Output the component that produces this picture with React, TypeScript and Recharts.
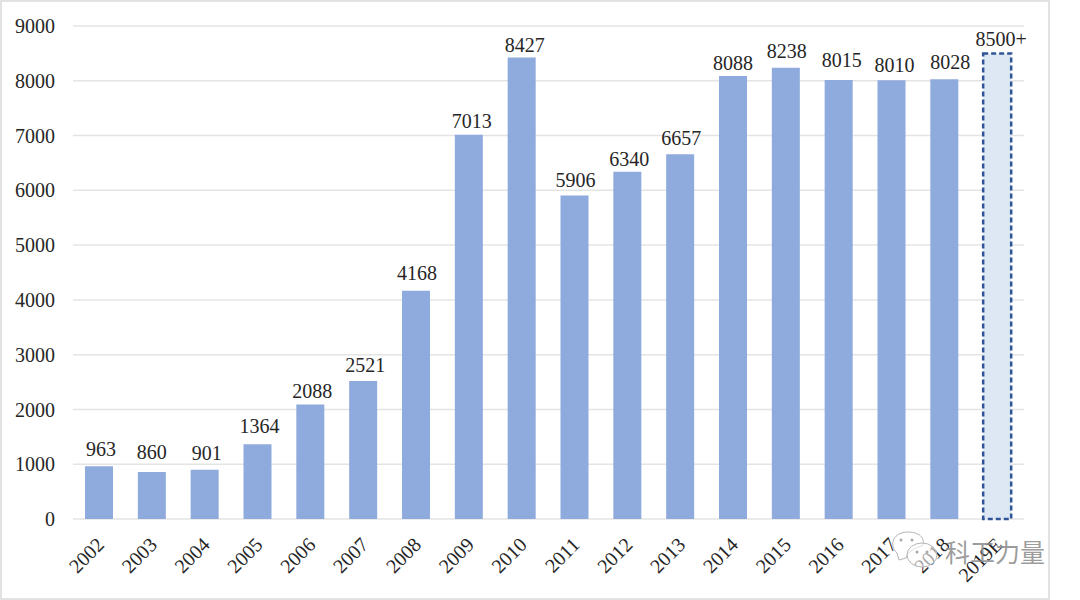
import React from 'react';
import { BarChart, Bar, XAxis, YAxis, CartesianGrid, Cell, LabelList } from 'recharts';

const years = ['2002', '2003', '2004', '2005', '2006', '2007', '2008', '2009', '2010', '2011', '2012', '2013', '2014', '2015', '2016', '2017', '2018', '2019E'];
const values = [963, 860, 901, 1364, 2088, 2521, 4168, 7013, 8427, 5906, 6340, 6657, 8088, 8238, 8015, 8010, 8028, 8500];
const valueLabels = ['963', '860', '901', '1364', '2088', '2521', '4168', '7013', '8427', '5906', '6340', '6657', '8088', '8238', '8015', '8010', '8028', '8500+'];
const yTicks = [0, 1000, 2000, 3000, 4000, 5000, 6000, 7000, 8000, 9000];

// the labels were hand-placed in the original, so each one gets a small nudge
const labelDx = [2, 0, 2, 2, 2, 2, 1, 3, 3, 1, 2, 1, 0, 1, 3, 3, 6, 4];
const labelDy = [0, -3, 0, -1, 3, 1, -1, 3, 5, 2, 4, 1, 4, 0, -3, 2, 0, 1];

const data = years.map((year, i) => ({ year, value: values[i], label: valueLabels[i] }));

const SERIF = '"Liberation Serif", serif';
const TEXT = '#262626';

const YearTick = ({ x, y, payload }: any) => (
  <text
    x={x + 6}
    y={y + 19}
    transform={`rotate(-45 ${x + 6} ${y + 19})`}
    textAnchor="end"
    fontFamily={SERIF}
    fontSize={20}
    fill={TEXT}
  >
    {payload.value}
  </text>
);

const ValueLabel = ({ x, y, width, value, index }: any) => {
  const last = index === data.length - 1;
  return (
    <text
      x={x + width / 2 + labelDx[index]}
      y={y - (last ? 8 : 10) + labelDy[index]}
      textAnchor="middle"
      fontFamily={SERIF}
      fontSize={20}
      fill={TEXT}
    >
      {value}
    </text>
  );
};

// WeChat-style watermark sitting on top of the axis labels
const Watermark = () => (
  <svg width={1080} height={600} style={{ position: 'absolute', left: 0, top: 0, pointerEvents: 'none' }}>
    <g fill="#ffffff" fillOpacity={0.6} stroke="#b4b4b4" strokeWidth={1}>
      <path d="M 897 553 C 888 544 894 532 908 532 C 921 532 926 540 922 546 C 914 548 908 552 906 558 L 899 560 Z" />
      <ellipse cx={922} cy={555} rx={15} ry={12} />
    </g>
    <g fill="#a8a8a8">
      <circle cx={901} cy={540} r={1.5} />
      <circle cx={912} cy={540} r={1.5} />
      <circle cx={917} cy={552} r={1.5} />
      <circle cx={927} cy={552} r={1.5} />
    </g>
    <text x={945} y={562} fontFamily='"Noto Sans CJK SC"' fontSize={25} fill="#8a8a8a" fillOpacity={0.85}>
      科工力量
    </text>
  </svg>
);

export default function App() {
  return (
    <div style={{ position: 'absolute', left: 0, top: 0, width: 1080, height: 600, background: '#fff', overflow: 'hidden' }}>
      <div style={{ position: 'absolute', left: 0, top: 0, width: 1046, height: 596, border: '2px solid #e2e2e2' }} />
      <div style={{ position: 'absolute', left: 0, top: 0 }}>
        <BarChart width={1080} height={600} data={data} margin={{ top: 26, right: 56, bottom: 0, left: 0 }} barSize={28}>
          <CartesianGrid vertical={false} stroke="#e4e4e4" strokeWidth={1.5} />
          <XAxis
            dataKey="year"
            interval={0}
            height={81}
            tick={<YearTick />}
            tickLine={false}
            axisLine={false}
          />
          <YAxis
            width={73}
            domain={[0, 9000]}
            ticks={yTicks}
            interval={0}
            tickLine={false}
            axisLine={false}
            tickMargin={12}
            tick={{ fontFamily: SERIF, fontSize: 20, fill: TEXT }}
          />
          <Bar dataKey="value" fill="#8faadc" isAnimationActive={false}>
            {data.map((d, i) =>
              i === data.length - 1 ? (
                <Cell key={d.year} fill="#dee8f5" stroke="#2f5597" strokeWidth={2.5} strokeDasharray="5 3" />
              ) : (
                <Cell key={d.year} fill="#8faadc" />
              )
            )}
            <LabelList dataKey="label" content={<ValueLabel />} />
          </Bar>
        </BarChart>
      </div>
      <Watermark />
    </div>
  );
}
